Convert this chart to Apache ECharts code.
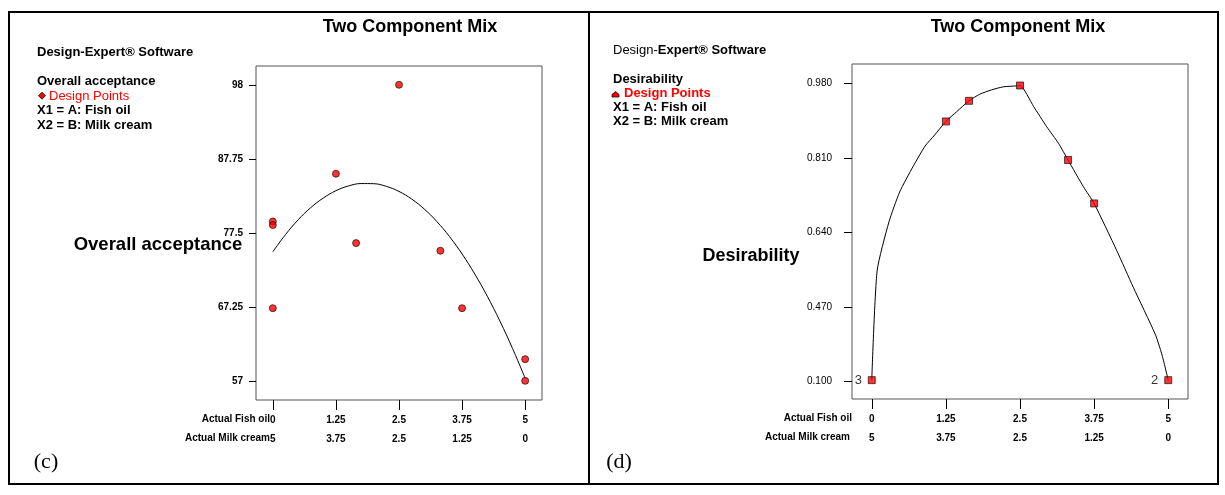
<!DOCTYPE html>
<html>
<head>
<meta charset="utf-8">
<script src="https://cdn.jsdelivr.net/npm/echarts@6/dist/echarts.min.js"></script>
<style>html,body{margin:0;padding:0;background:#fff;}#c{width:1225px;height:495px;}</style>
</head>
<body>
<div id="c"></div>
<script>
// ---- data ----
const fishTicks = [0, 1.25, 2.5, 3.75, 5];
const fishTickLabels = ['0', '1.25', '2.5', '3.75', '5'];
const milkTickLabels = ['5', '3.75', '2.5', '1.25', '0'];

const accTicks = [57, 67.25, 77.5, 87.75, 98];
const accTickLabels = ['57', '67.25', '77.5', '87.75', '98'];
const accPointX = [0, 0, 0, 1.25, 1.65, 2.5, 3.32, 3.75, 5, 5];
const accPointY = [79.1, 78.6, 67.1, 85.7, 76.1, 98, 75.05, 67.1, 60.05, 57.05];
const accCurveX = [0, 0.25, 0.5, 0.75, 1, 1.25, 1.5, 1.75, 2, 2.25, 2.5, 2.75, 3, 3.25, 3.5, 3.75, 4, 4.25, 4.5, 4.75, 5];
const accCurveY = [74.9, 77.27, 79.31, 81.0, 82.34, 83.35, 84.01, 84.34, 84.32, 83.95, 83.25, 82.2, 80.82, 79.09, 77.01, 74.6, 71.84, 68.75, 65.31, 61.52, 57.4];

const desTicks = [0.30, 0.47, 0.64, 0.81, 0.98];
const desTickLabels = ['0.100', '0.470', '0.640', '0.810', '0.980'];
const desPointX = [0, 1.25, 1.64, 2.5, 3.31, 3.75, 5];
const desPointY = [0.303, 0.893, 0.940, 0.975, 0.805, 0.706, 0.303];
const desReplicates = ['3', '', '', '', '', '', '2'];
const desCurveX = [0, 0.09, 0.29, 0.47, 0.70, 0.90, 1.06, 1.25, 1.43, 1.64, 1.82, 2.02, 2.22, 2.44, 2.5, 2.73, 2.95, 3.15, 3.31, 3.57, 3.75, 4.13, 4.41, 4.78, 4.89, 5];
const desCurveY = [0.303, 0.552, 0.664, 0.732, 0.791, 0.837, 0.862, 0.893, 0.915, 0.940, 0.955, 0.965, 0.972, 0.974, 0.975, 0.927, 0.881, 0.843, 0.805, 0.744, 0.706, 0.599, 0.515, 0.408, 0.363, 0.303];

// ---- helpers ----
const zip = (xs, ys) => xs.map((x, i) => [x, ys[i]]);
const FONT = 'Liberation Sans, Arial, sans-serif';
function xAxisCfg(grid) {
  return {
    type: 'value', gridIndex: grid, min: -1 / 3, max: 16 / 3, position: 'bottom',
    axisLine: { show: false, onZero: false },
    splitLine: { show: false },
    axisTick: { show: true, customValues: fishTicks, length: 10, lineStyle: { color: '#000', width: 1 } },
    axisLabel: {
      customValues: fishTicks, margin: 11, color: '#000', fontFamily: FONT, fontSize: 10,
      fontWeight: 'bold', lineHeight: 19,
      formatter: v => { const i = fishTicks.indexOf(v); return fishTickLabels[i] + '\n' + milkTickLabels[i]; }
    }
  };
}
function yAxisCfg(grid, min, max, ticks, labels, bold, margin, tickLen) {
  return {
    type: 'value', gridIndex: grid, min: min, max: max, position: 'left',
    axisLine: { show: false, onZero: false },
    splitLine: { show: false },
    axisTick: { show: true, customValues: ticks, length: tickLen, lineStyle: { color: '#000', width: 1 } },
    axisLabel: {
      customValues: ticks, margin: margin, color: '#000', fontFamily: FONT, fontSize: 10,
      fontWeight: bold ? 'bold' : 'normal',
      formatter: v => labels[ticks.indexOf(v)]
    }
  };
}
function txt(x, y, text, size, weight, color, align, family) {
  return { type: 'text', x: x, y: y, style: { text: text, fontSize: size, fontWeight: weight || 'bold', fill: color || '#000', fontFamily: family || FONT, textAlign: align || 'left', textVerticalAlign: 'middle' } };
}

const chart = echarts.init(document.getElementById('c'), null, { renderer: 'canvas' });
chart.setOption({
  backgroundColor: '#fff',
  animation: false,
  grid: [
    { left: 256, top: 66, width: 286, height: 334, show: true, borderColor: '#555', borderWidth: 1, backgroundColor: 'transparent' },
    { left: 852, top: 64, width: 336, height: 335, show: true, borderColor: '#555', borderWidth: 1, backgroundColor: 'transparent' }
  ],
  xAxis: [xAxisCfg(0), xAxisCfg(1)],
  yAxis: [
    yAxisCfg(0, 54.4, 100.6, accTicks, accTickLabels, true, 13, 7),
    yAxisCfg(1, 0.26, 1.024, desTicks, desTickLabels, false, 20, 8)
  ],
  series: [
    { type: 'line', xAxisIndex: 0, yAxisIndex: 0, data: zip(accCurveX, accCurveY), smooth: 0.4, showSymbol: false, lineStyle: { color: '#000', width: 1 }, z: 2 },
    { type: 'scatter', xAxisIndex: 0, yAxisIndex: 0, data: zip(accPointX, accPointY), symbol: 'circle', symbolSize: 7, itemStyle: { color: '#f00', borderColor: '#000', borderWidth: 0.8 }, z: 3 },
    { type: 'line', xAxisIndex: 1, yAxisIndex: 1, data: zip(desCurveX, desCurveY), smooth: 0.2, showSymbol: false, lineStyle: { color: '#000', width: 1 }, z: 2 },
    { type: 'scatter', xAxisIndex: 1, yAxisIndex: 1, symbol: 'rect', symbolSize: 7,
      itemStyle: { color: '#f00', borderColor: '#000', borderWidth: 0.8 }, z: 3,
      data: desPointX.map((x, i) => ({ value: [x, desPointY[i]], label: { show: desReplicates[i] !== '', formatter: desReplicates[i], position: 'left', distance: 6, color: '#000', fontSize: 13, fontFamily: FONT } })) }
  ],
  graphic: [
    { type: 'rect', shape: { x: 9, y: 12, width: 1209, height: 472 }, style: { fill: 'none', stroke: '#000', lineWidth: 2 } },
    { type: 'line', shape: { x1: 589, y1: 12, x2: 589, y2: 484 }, style: { stroke: '#000', lineWidth: 2 } },
    // left panel
    txt(410, 27, 'Two Component Mix', 18, 'bold', '#000', 'center'),
    txt(37, 52, 'Design-Expert® Software', 13),
    txt(37, 81, 'Overall acceptance', 13),
    { type: 'polygon', shape: { points: [[42, 92.2], [45.5, 95.7], [42, 99.2], [38.5, 95.7]] }, style: { fill: '#f00', stroke: '#000', lineWidth: 0.8 } },
    txt(49, 96, 'Design Points', 13, 'normal', '#f00'),
    txt(37, 110, 'X1 = A: Fish oil', 13),
    txt(37, 125, 'X2 = B: Milk cream', 13),
    txt(158, 245, 'Overall acceptance', 18.5, 'bold', '#000', 'center'),
    txt(270, 419, 'Actual Fish oil', 10, 'bold', '#000', 'right'),
    txt(270, 438, 'Actual Milk cream', 10, 'bold', '#000', 'right'),
    txt(46, 462, '(c)', 22, 'normal', '#000', 'center', 'Liberation Serif, Times New Roman, serif'),
    // right panel
    txt(1018, 27, 'Two Component Mix', 18, 'bold', '#000', 'center'),
    { type: 'text', x: 613, y: 50, style: { text: '{n|Design-}{b|Expert® Software}', rich: { n: { fontSize: 13, fontFamily: FONT, fill: '#000' }, b: { fontSize: 13, fontWeight: 'bold', fontFamily: FONT, fill: '#000' } }, textVerticalAlign: 'middle' } },
    txt(613, 79, 'Desirability', 13),
    { type: 'polygon', shape: { points: [[612, 97], [612, 94.5], [615.5, 91.5], [619, 94.5], [619, 97]] }, style: { fill: '#f00', stroke: '#000', lineWidth: 0.8 } },
    txt(624, 93, 'Design Points', 13, 'bold', '#f00'),
    txt(613, 107, 'X1 = A: Fish oil', 13),
    txt(613, 121, 'X2 = B: Milk cream', 13),
    txt(751, 256, 'Desirability', 18, 'bold', '#000', 'center'),
    txt(852, 418, 'Actual Fish oil', 10, 'bold', '#000', 'right'),
    txt(850, 437, 'Actual Milk cream', 10, 'bold', '#000', 'right'),
    txt(619, 462, '(d)', 22, 'normal', '#000', 'center', 'Liberation Serif, Times New Roman, serif')
  ]
});
</script>
</body>
</html>
